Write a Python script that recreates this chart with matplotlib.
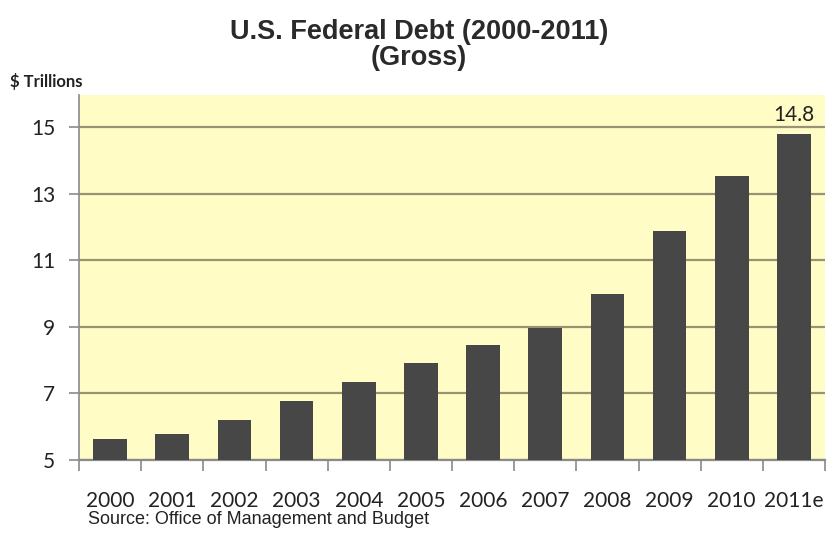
import matplotlib
matplotlib.use("Agg")
import matplotlib.pyplot as plt
import numpy as np

# U.S. gross federal debt, trillions of dollars
years = ["2000", "2001", "2002", "2003", "2004", "2005",
         "2006", "2007", "2008", "2009", "2010", "2011e"]
debt = [5.63, 5.77, 6.2, 6.76, 7.35, 7.9, 8.45, 8.95, 9.99, 11.88, 13.53, 14.8]
y_ticks = [5, 7, 9, 11, 13, 15]
label_value = 14.8

fig = plt.figure(figsize=(8.27, 5.33), dpi=100)
ax = fig.add_axes([79 / 827, 1 - 460 / 533, 746 / 827, 365 / 533])
ax.set_facecolor("#fffcc6")

x = np.arange(len(years))
ax.bar(x, debt, width=0.54, bottom=0, color="#474747", zorder=3)

ax.set_xlim(-0.5, len(years) - 0.5)
ax.set_ylim(5, 15.96)

ax.set_yticks(y_ticks)
ax.set_yticklabels([str(t) for t in y_ticks], fontsize=15, family="Lato", color="#222222")
ax.yaxis.grid(True, color="#9a9272", linewidth=1.6, zorder=1)
ax.tick_params(axis="y", length=7, width=1.2, color="#8a8a8a", pad=10)

# category labels centred under bars, ticks between categories
ax.set_xticks(np.arange(-0.5, len(years)), minor=False)
ax.set_xticklabels([])
ax.set_xticks(x, minor=True)
ax.set_xticklabels(years, minor=True, fontsize=15, family="Lato", color="#222222")
ax.tick_params(axis="x", which="major", length=8, width=1.2, color="#8a8a8a", direction="out")
ax.tick_params(axis="x", which="minor", length=0, pad=22)

for side in ["top", "right"]:
    ax.spines[side].set_visible(False)
ax.spines["left"].set_color("#8a8a8a")
ax.spines["left"].set_linewidth(1.2)
ax.spines["bottom"].set_color("#8a8a8a")
ax.spines["bottom"].set_linewidth(1.6)

ax.annotate(f"{label_value:.1f}", xy=(x[-1], label_value), xytext=(0, 6),
            textcoords="offset points", ha="center", va="bottom",
            fontsize=15, family="Lato", color="#222222")

fig.text(419 / 827, 1 - 32 / 533, "U.S. Federal Debt (2000-2011)", ha="center", va="center",
         fontsize=19.5, fontweight="bold", family="Liberation Sans", color="#2a2a2a")
fig.text(419 / 827, 1 - 58 / 533, "(Gross)", ha="center", va="center",
         fontsize=19.5, fontweight="bold", family="Liberation Sans", color="#2a2a2a")
fig.text(10 / 827, 1 - 82 / 533, "$ Trillions", ha="left", va="center",
         fontsize=12, fontweight="bold", family="Lato", color="#222222")
fig.text(88 / 827, 1 - 520 / 533, "Source: Office of Management and Budget", ha="left", va="center",
         fontsize=13, family="Liberation Sans", color="#222222")

fig.savefig("out.png", dpi=100, facecolor="white")
